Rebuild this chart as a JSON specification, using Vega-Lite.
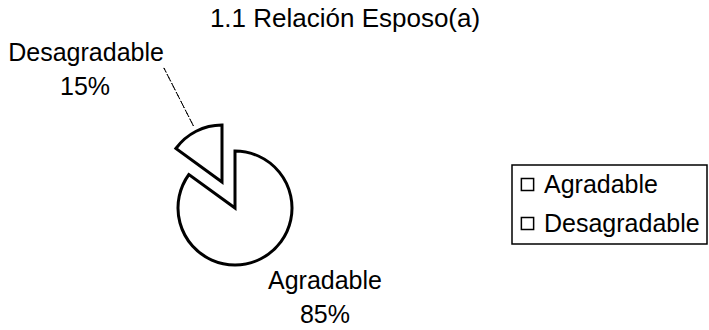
{
  "$schema": "https://vega.github.io/schema/vega-lite/v6.json",
  "width": 709,
  "height": 330,
  "autosize": {"type": "none"},
  "padding": 0,
  "background": "white",
  "title": {
    "text": "1.1 Relación Esposo(a)",
    "anchor": "middle",
    "frame": "group",
    "dx": -9.5,
    "offset": -53,
    "baseline": "alphabetic",
    "font": "Liberation Sans",
    "fontSize": 26,
    "fontWeight": "normal",
    "color": "black"
  },
  "config": {
    "view": {"stroke": null},
    "font": "Liberation Sans",
    "text": {"font": "Liberation Sans", "fontSize": 25, "color": "black", "align": "center", "baseline": "alphabetic"},
    "legend": {
      "orient": "none",
      "legendX": 512,
      "legendY": 165,
      "strokeColor": "black",
      "strokeWidth": 1.5,
      "padding": 7,
      "symbolType": "square",
      "symbolSize": 150,
      "symbolOffset": -4,
      "symbolStrokeColor": "black",
      "symbolStrokeWidth": 1.5,
      "labelFont": "Liberation Sans",
      "labelFontSize": 25,
      "labelColor": "black",
      "labelOffset": 4,
      "rowPadding": 13,
      "labelLimit": 0
    }
  },
  "data": {
    "values": [
      {"categoria": "Agradable", "valor": 0.85},
      {"categoria": "Desagradable", "valor": 0.15}
    ]
  },
  "transform": [
    {"stack": "valor", "groupby": [], "sort": [{"field": "categoria", "order": "ascending"}], "as": ["v0", "v1"]}
  ],
  "layer": [
    {
      "transform": [{"filter": "datum.categoria === 'Agradable'"}],
      "mark": {"type": "arc", "radius": 57, "stroke": "black", "strokeWidth": 3, "xOffset": -119.5, "yOffset": 43},
      "encoding": {
        "theta": {"field": "v0", "type": "quantitative", "scale": {"domain": [0, 1]}},
        "theta2": {"field": "v1"},
        "fill": {"field": "categoria", "type": "nominal", "scale": {"domain": ["Agradable", "Desagradable"], "range": ["white", "white"]}, "legend": {"title": null}}
      }
    },
    {
      "transform": [{"filter": "datum.categoria === 'Desagradable'"}],
      "mark": {"type": "arc", "radius": 57, "stroke": "black", "strokeWidth": 3, "xOffset": -132.5, "yOffset": 17},
      "encoding": {
        "theta": {"field": "v0", "type": "quantitative", "scale": {"domain": [0, 1]}},
        "theta2": {"field": "v1"},
        "fill": {"field": "categoria", "type": "nominal", "legend": {"title": null}}
      }
    },
    {
      "transform": [{"filter": "datum.categoria === 'Desagradable'"}],
      "mark": {"type": "arc", "radius": 128, "radius2": 62, "thetaOffset": -0.4712, "theta2Offset": -0.4712, "fill": "transparent", "stroke": "black", "strokeWidth": 1, "strokeDash": [5, 2, 1, 2], "xOffset": -132.5, "yOffset": 17},
      "encoding": {
        "theta": {"field": "v1", "type": "quantitative", "scale": {"domain": [0, 1]}},
        "theta2": {"field": "v1"}
      }
    },
    {
      "transform": [{"filter": "datum.categoria === 'Agradable'"}],
      "mark": {"type": "text", "radius": 120, "xOffset": -119.5, "yOffset": 43, "dx": 35.5, "dy": -26},
      "encoding": {
        "theta": {"field": "valor", "type": "quantitative", "stack": true, "scale": {"domain": [0, 1]}},
        "text": {"field": "categoria"}
      }
    },
    {
      "transform": [{"filter": "datum.categoria === 'Agradable'"}],
      "mark": {"type": "text", "radius": 120, "xOffset": -119.5, "yOffset": 43, "dx": 35.5, "dy": 8},
      "encoding": {
        "theta": {"field": "valor", "type": "quantitative", "stack": true, "scale": {"domain": [0, 1]}},
        "text": {"field": "valor", "type": "quantitative", "format": ".0%"}
      }
    },
    {
      "transform": [{"filter": "datum.categoria === 'Desagradable'"}],
      "mark": {"type": "text", "radius": 202, "xOffset": -119.5, "yOffset": 43, "dx": 14.5, "dy": -28},
      "encoding": {
        "theta": {"field": "v0", "type": "quantitative", "scale": {"domain": [0, 1]}},
        "text": {"field": "categoria"}
      }
    },
    {
      "transform": [{"filter": "datum.categoria === 'Desagradable'"}],
      "mark": {"type": "text", "radius": 202, "xOffset": -119.5, "yOffset": 43, "dx": 13.5, "dy": 6},
      "encoding": {
        "theta": {"field": "v0", "type": "quantitative", "scale": {"domain": [0, 1]}},
        "text": {"field": "valor", "type": "quantitative", "format": ".0%"}
      }
    }
  ]
}
